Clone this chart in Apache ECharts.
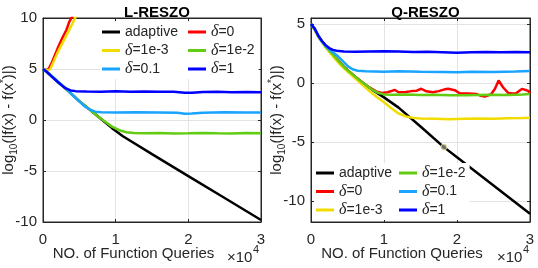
<!DOCTYPE html>
<html><head><meta charset="utf-8">
<script src="https://cdn.jsdelivr.net/npm/echarts@6/dist/echarts.min.js"></script>
<style>html,body{margin:0;padding:0;background:#fff}#c{width:538px;height:268px}</style>
</head><body><div id="c"></div>
<script>
// ---- data (x in units of 10^4 function queries, y = log10 error) ----
const xTicks = [0, 1, 2, 3];
const yTicksL = [-10, -5, 0, 5, 10];
const yTicksR = [-10, -5, 0, 5];
const titles = ['L-RESZO', 'Q-RESZO'];
const names = ['adaptive', 'δ=0', 'δ=1e-3', 'δ=1e-2', 'δ=0.1', 'δ=1'];

const L_adaptive = [[0,5],[0.1,4.4],[0.2,3.75],[0.3,3.15],[0.4,2.5],[0.5,1.85],[0.65,0.98],[0.8,0.1],[0.95,-0.8],[1.1,-1.59],[1.5,-3.35],[2.0,-5.5],[2.5,-7.65],[3.0,-9.8]];
const L_d0 = [[0,5],[0.07,4.9],[0.12,5.6],[0.2,7.0],[0.27,8.1],[0.32,8.8],[0.36,9.6],[0.42,10.4]];
const L_d1e3 = [[0,5],[0.07,4.85],[0.1,5.0],[0.2,6.6],[0.3,8.0],[0.38,9.1],[0.47,10.4]];
const L_d1e2 = [[0,5],[0.1,4.4],[0.2,3.75],[0.3,3.15],[0.4,2.5],[0.5,1.85],[0.65,0.98],[0.75,0.4],[0.85,-0.15],[0.95,-0.65],[1.05,-1.0],[1.15,-1.2],[1.25,-1.28],[1.4,-1.3],[1.6,-1.28],[1.8,-1.32],[2.0,-1.3],[2.2,-1.27],[2.4,-1.3],[2.6,-1.32],[2.8,-1.28],[3.0,-1.3]];
const L_d01 = [[0,5],[0.1,4.45],[0.2,3.8],[0.3,3.2],[0.4,2.5],[0.5,1.8],[0.58,1.3],[0.65,1.0],[0.72,0.82],[0.8,0.76],[1.0,0.74],[1.3,0.76],[1.6,0.73],[1.85,0.7],[1.95,0.62],[2.05,0.64],[2.2,0.72],[2.5,0.75],[2.8,0.73],[3.0,0.74]];
const L_d1 = [[0,5],[0.05,4.75],[0.1,4.4],[0.2,3.75],[0.3,3.15],[0.38,2.9],[0.45,2.83],[0.6,2.8],[0.8,2.78],[1.0,2.82],[1.2,2.78],[1.4,2.8],[1.6,2.77],[1.8,2.76],[1.95,2.68],[2.05,2.66],[2.2,2.74],[2.4,2.76],[2.6,2.73],[2.8,2.75],[3.0,2.72]];

const Q_adaptive = [[0,5],[0.02,4.95],[0.05,4.55],[0.1,3.95],[0.15,3.5],[0.2,3.1],[0.3,2.4],[0.37,1.9],[0.45,1.35],[0.6,0.55],[0.7,0.05],[0.83,-0.55],[1.0,-1.23],[1.2,-2.1],[1.5,-3.7],[1.82,-5.45],[2.0,-6.3],[2.5,-8.7],[3.0,-11.1]];
const Q_d0 = [[0,5],[0.02,4.95],[0.05,4.55],[0.1,3.95],[0.2,3.1],[0.3,2.4],[0.45,1.35],[0.6,0.55],[0.75,-0.2],[0.9,-0.75],[0.97,-0.85],[1.05,-0.8],[1.15,-0.6],[1.2,-0.8],[1.3,-0.78],[1.38,-0.7],[1.45,-0.66],[1.51,-0.5],[1.58,-0.72],[1.67,-0.8],[1.75,-0.7],[1.83,-0.55],[1.88,-0.5],[1.97,-0.62],[2.04,-0.9],[2.15,-0.9],[2.27,-0.95],[2.33,-1.1],[2.38,-1.17],[2.43,-1.05],[2.47,-0.95],[2.52,-0.5],[2.57,0.2],[2.63,-0.37],[2.7,-0.85],[2.76,-0.9],[2.81,-0.88],[2.85,-0.7],[2.89,-0.51],[2.94,-0.6],[2.98,-0.71],[3.0,-0.9]];
const Q_d1e3 = [[0,5],[0.02,4.95],[0.05,4.5],[0.1,3.9],[0.2,3.0],[0.3,2.25],[0.4,1.55],[0.5,0.95],[0.6,0.4],[0.7,-0.15],[0.8,-0.7],[0.9,-1.2],[1.0,-1.65],[1.1,-2.15],[1.2,-2.6],[1.3,-2.85],[1.4,-2.97],[1.5,-3.02],[1.7,-3.05],[1.9,-3.08],[2.1,-3.05],[2.3,-3.02],[2.5,-3.05],[2.7,-3.0],[2.9,-2.98],[3.0,-2.95]];
const Q_d1e2 = [[0,5],[0.02,4.95],[0.05,4.55],[0.1,3.95],[0.15,3.5],[0.2,3.1],[0.3,2.4],[0.37,1.9],[0.45,1.35],[0.6,0.55],[0.7,0.05],[0.83,-0.55],[0.92,-0.85],[1.0,-0.98],[1.1,-1.0],[1.3,-0.98],[1.5,-1.02],[1.7,-1.0],[1.9,-1.05],[2.1,-1.05],[2.3,-1.02],[2.5,-1.0],[2.7,-1.02],[2.9,-0.98],[3.0,-0.95]];
const Q_d01 = [[0,5],[0.02,4.95],[0.05,4.6],[0.1,4.0],[0.15,3.5],[0.2,3.1],[0.25,2.85],[0.3,2.6],[0.37,2.25],[0.45,1.75],[0.51,1.38],[0.57,1.15],[0.64,1.03],[0.75,0.98],[1.0,0.95],[1.2,0.98],[1.5,0.94],[1.8,0.92],[2.0,0.9],[2.2,0.95],[2.5,0.93],[2.8,0.96],[3.0,1.0]];
const Q_d1 = [[0,5],[0.02,4.95],[0.05,4.6],[0.1,4.0],[0.15,3.55],[0.2,3.2],[0.25,2.95],[0.3,2.8],[0.35,2.72],[0.45,2.66],[0.6,2.64],[0.8,2.66],[1.0,2.68],[1.2,2.65],[1.4,2.62],[1.6,2.64],[1.8,2.6],[2.0,2.56],[2.2,2.6],[2.4,2.62],[2.6,2.6],[2.8,2.62],[3.0,2.6]];
const Q_marker = [[1.82,-5.45]];

const colors = ['#000000', '#ff0000', '#f2dc00', '#62cc12', '#18a4ff', '#0000ff'];
const Ldata = [L_adaptive, L_d0, L_d1e3, L_d1e2, L_d01, L_d1];
const Qdata = [Q_adaptive, Q_d0, Q_d1e3, Q_d1e2, Q_d01, Q_d1];

// ---- chart ----
const FONT = 'Liberation Sans, Arial, sans-serif';
const TXT = '#262626';
const chart = echarts.init(document.getElementById('c'), null, {renderer: 'canvas'});

const grids = [
  {left: 43, top: 18, width: 218, height: 204},
  {left: 311, top: 18, width: 219, height: 204}
];
const yRange = [[-10, 10], [-11.8, 5.5]];
const yTicks = [yTicksL, yTicksR];

const xAxes = [], yAxes = [];
grids.forEach((g, i) => {
  xAxes.push({
    type: 'value', gridIndex: i, min: 0, max: 3, interval: 1,
    name: 'NO. of Function Queries', nameLocation: 'middle', nameGap: 24, nameMoveOverlap: false,
    nameTextStyle: {fontFamily: FONT, fontSize: 15, color: TXT, padding: [0, 37, 0, 0]},
    axisLine: {show: true, onZero: false, lineStyle: {color: TXT, width: 1}},
    axisTick: {show: true, inside: true, length: 3, lineStyle: {color: TXT}},
    axisLabel: {fontFamily: FONT, fontSize: 15, color: TXT, margin: 10,
      customValues: xTicks, formatter: v => String(v)},
    splitLine: {show: true, lineStyle: {color: '#e3e3e3', width: 1}}
  });
  xAxes.push({
    type: 'value', gridIndex: i, min: 0, max: 3, interval: 1, position: 'top',
    axisLine: {show: true, onZero: false, lineStyle: {color: TXT, width: 1}},
    axisTick: {show: true, inside: true, length: 3, lineStyle: {color: TXT}},
    axisLabel: {show: false}, splitLine: {show: false}
  });
  const yl = {
    type: 'value', gridIndex: i, min: yRange[i][0], max: yRange[i][1],
    name: 'log{sub|10}(|f(x) - f(x{sup|*})|)', nameLocation: 'middle', nameGap: 24, nameMoveOverlap: false,
    nameTextStyle: {fontFamily: FONT, fontSize: 15, color: TXT, lineHeight: 20,
      rich: {sub: {fontFamily: FONT, fontSize: 10, color: TXT, verticalAlign: 'bottom', lineHeight: 9},
             sup: {fontFamily: FONT, fontSize: 10, color: TXT, verticalAlign: 'top', lineHeight: 13}}},
    axisLine: {show: true, onZero: false, lineStyle: {color: TXT, width: 1}},
    axisTick: {show: true, inside: true, length: 3, lineStyle: {color: TXT}, customValues: yTicks[i]},
    axisLabel: {fontFamily: FONT, fontSize: 15, color: TXT, margin: 6, customValues: yTicks[i]},
    splitLine: {show: true, lineStyle: {color: '#e3e3e3', width: 1}}
  };
  if (i === 0) { yl.interval = 5; }
  yAxes.push(yl);
  yAxes.push({
    type: 'value', gridIndex: i, min: yRange[i][0], max: yRange[i][1], position: 'right',
    axisLine: {show: true, onZero: false, lineStyle: {color: TXT, width: 1}},
    axisTick: {show: true, inside: true, length: 3, lineStyle: {color: TXT}, customValues: yTicks[i]},
    axisLabel: {show: false}, splitLine: {show: false}
  });
});

const series = [];
[Ldata, Qdata].forEach((set, gi) => {
  set.forEach((d, k) => {
    series.push({
      type: 'line', name: names[k], data: d, xAxisIndex: gi * 2, yAxisIndex: gi * 2,
      symbol: 'none', smooth: false, clip: true,
      lineStyle: {color: colors[k], width: 2.5}, itemStyle: {color: colors[k]},
      z: 2 + k
    });
  });
});
series.push({
  type: 'scatter', name: 'marker', data: Q_marker, xAxisIndex: 2, yAxisIndex: 2,
  symbolSize: 6, itemStyle: {color: '#808080', borderColor: '#f3ea9a', borderWidth: 1}, z: 20
});

const legendText = {fontFamily: FONT, fontSize: 14, color: TXT, lineHeight: 16,
  rich: {d: {fontFamily: 'Liberation Serif, serif', fontStyle: 'italic', fontSize: 16, color: TXT, lineHeight: 16},
         t: {fontFamily: FONT, fontSize: 14, color: TXT, lineHeight: 16}}};
const fmt = n => n.charAt(0) === 'δ' ? '{d|δ}{t|' + n.slice(1) + '}' : '{t|' + n + '}';
function mkLegend(data, left, top, padRight) {
  return {
    data: data.map(n => ({name: n, icon: 'rect'})), orient: 'vertical', left: left, top: top, itemGap: 2.5,
    itemWidth: 18, itemHeight: 3, itemTextGap: 4, selectedMode: false,
    backgroundColor: '#ffffff', padding: [2, padRight, 2, 2],
    textStyle: legendText, formatter: fmt
  };
}

chart.setOption({
  animation: false,
  backgroundColor: '#ffffff',
  title: titles.map((t, i) => ({
    text: t, left: grids[i].left + grids[i].width / 2, top: 0, textAlign: 'center',
    textStyle: {fontFamily: FONT, fontSize: 15, fontWeight: 'bold', color: '#000'}
  })),
  grid: grids.map(g => Object.assign({show: true, borderColor: TXT, borderWidth: 1,
    backgroundColor: 'transparent', containLabel: false, outerBoundsMode: 'none'}, g)),
  xAxis: xAxes, yAxis: yAxes,
  legend: [
    mkLegend(['adaptive', 'δ=1e-3', 'δ=0.1'], 100, 22, 14),
    mkLegend(['δ=0', 'δ=1e-2', 'δ=1'], 186, 22, 4),
    mkLegend(['adaptive', 'δ=0', 'δ=1e-3'], 314, 163, 6),
    mkLegend(['δ=1e-2', 'δ=0.1', 'δ=1'], 397, 163, 4)
  ],
  graphic: [
    {type: 'text', left: 227, top: 250, style: {text: '×10', font: '15px Liberation Sans, Arial', fill: TXT}},
    {type: 'text', left: 253, top: 244, style: {text: '4', font: '11px Liberation Sans, Arial', fill: TXT}},
    {type: 'text', left: 497, top: 250, style: {text: '×10', font: '15px Liberation Sans, Arial', fill: TXT}},
    {type: 'text', left: 523, top: 244, style: {text: '4', font: '11px Liberation Sans, Arial', fill: TXT}}
  ],
  series: series
});
</script></body></html>
